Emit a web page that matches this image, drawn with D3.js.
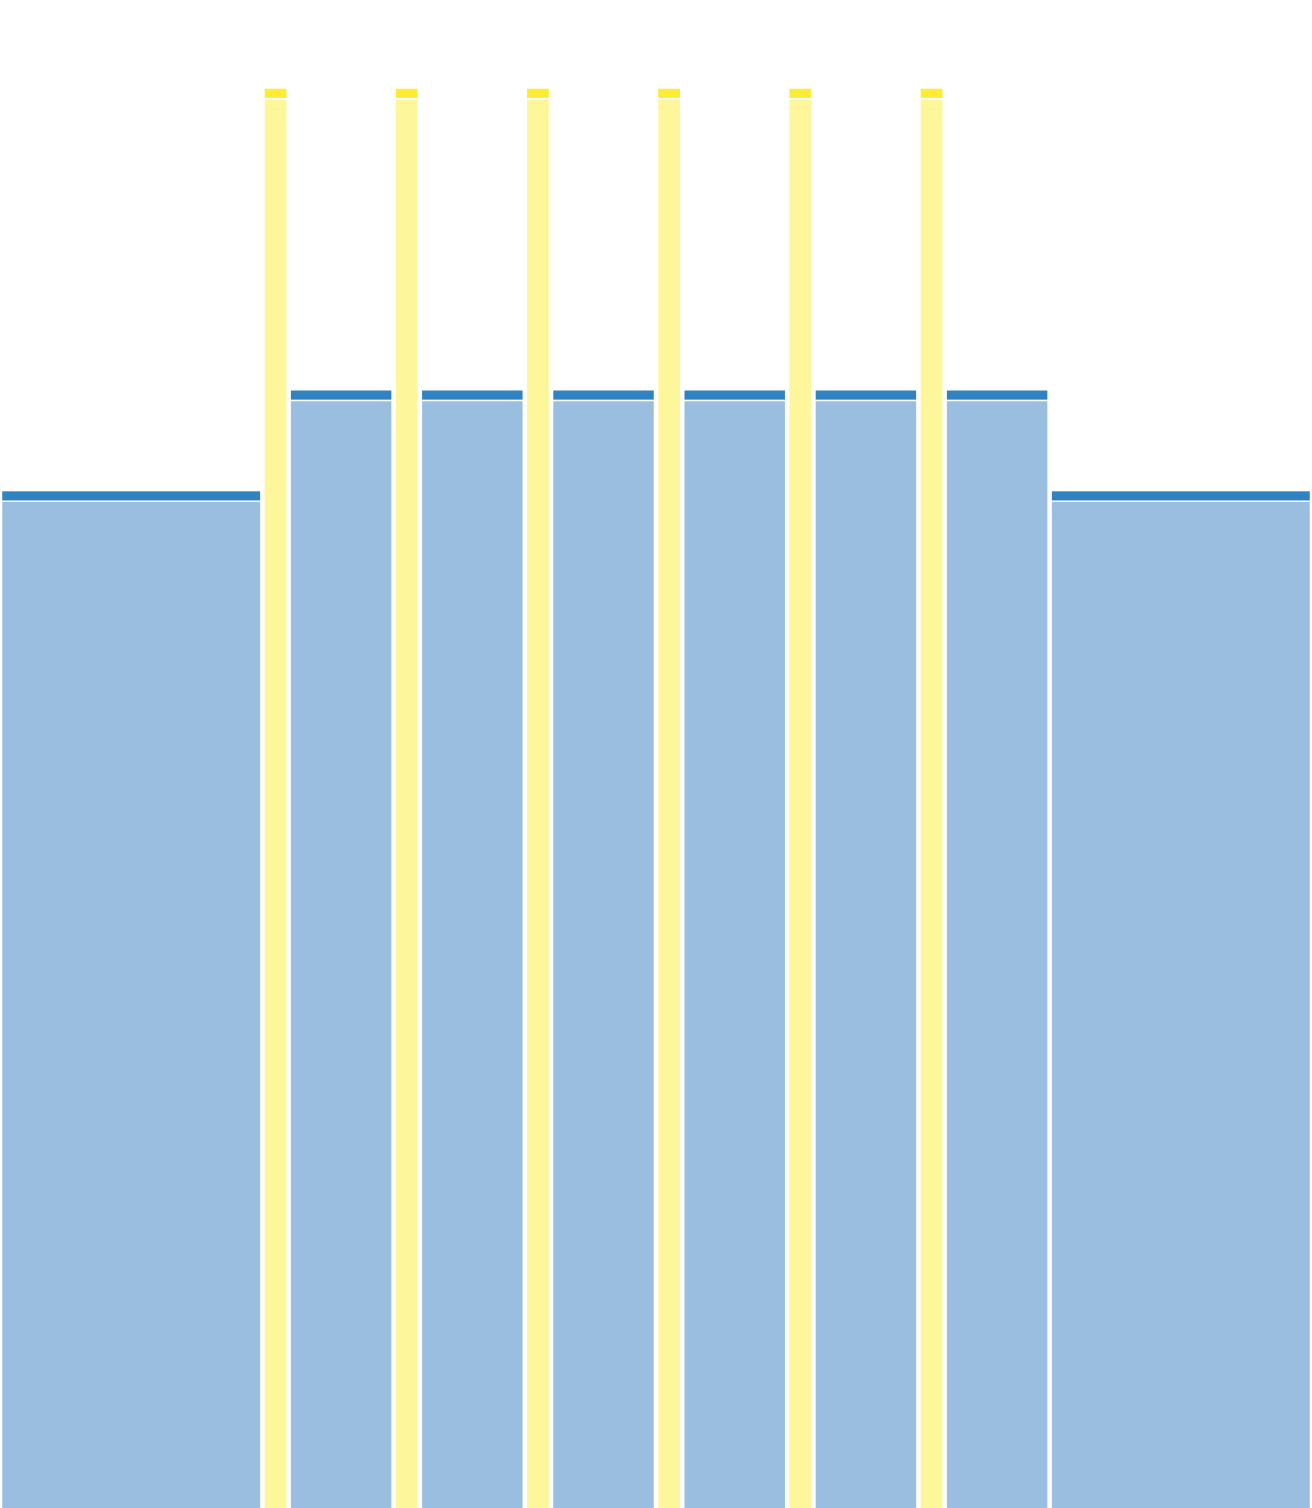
<!DOCTYPE html>
<html>
<head>
<meta charset="utf-8">
<script src="https://cdn.jsdelivr.net/npm/d3@7"></script>
<style>
  body { margin: 0; background: #fff; }
  svg { display: block; }
</style>
</head>
<body>
<div id="chart"></div>
<script>

// column data (left to right)
var categories = ["A", "y1", "B", "y2", "C", "y3", "D", "y4", "E", "y5", "F", "y6", "G", "H"];
var groups     = ["blue", "yellow", "blue", "yellow", "blue", "yellow", "blue", "yellow", "blue", "yellow", "blue", "yellow", "blue", "blue"];
var widths     = [10, 1, 4, 1, 4, 1, 4, 1, 4, 1, 4, 1, 4, 10];
var baseValues = [70.9, 99.25, 78, 99.25, 78, 99.25, 78, 99.25, 78, 99.25, 78, 99.25, 78, 70.9];
var capValues  = [0.75, 0.75, 0.75, 0.75, 0.75, 0.75, 0.75, 0.75, 0.75, 0.75, 0.75, 0.75, 0.75, 0.75];

var colors = {
    blue:   {base: "#9abedf", cap: "#3182c0"},
    yellow: {base: "#fef69a", cap: "#feeb33"}
};

var width = 1312,
    height = 1508,
    margin = {top: 88, right: 0, bottom: 0, left: 0};

var svg = d3.select("#chart").append("svg")
    .attr("width", width)
    .attr("height", height);

// cumulative x positions from column widths
var offsets = [0];
widths.forEach(function(w, i) { offsets.push(offsets[i] + w); });

var x = d3.scaleLinear()
    .domain([0, d3.sum(widths)])
    .range([margin.left, width - margin.right]);

var y = d3.scaleLinear()
    .domain([0, 100])
    .range([height - margin.bottom, margin.top]);

var data = categories.map(function(c, i) {
    return {
        name: c,
        group: groups[i],
        x0: offsets[i],
        x1: offsets[i + 1],
        base: baseValues[i],
        cap: capValues[i]
    };
});

var pad = 1.5;

var col = svg.selectAll("g.col")
    .data(data)
    .enter()
    .append("g")
    .attr("class", "col");

// body segment
col.append("rect")
    .attr("x", d => x(d.x0) + pad)
    .attr("width", d => x(d.x1) - x(d.x0) - 2 * pad)
    .attr("y", d => y(d.base))
    .attr("height", d => y(0) - y(d.base) + 2)
    .attr("fill", d => colors[d.group].base)
    .attr("stroke", "#fff")
    .attr("stroke-width", 1.5);

// top cap segment
col.append("rect")
    .attr("x", d => x(d.x0) + pad)
    .attr("width", d => x(d.x1) - x(d.x0) - 2 * pad)
    .attr("y", d => y(d.base + d.cap))
    .attr("height", d => y(d.base) - y(d.base + d.cap))
    .attr("fill", d => colors[d.group].cap)
    .attr("stroke", "#fff")
    .attr("stroke-width", 1.5);

</script>
</body>
</html>
